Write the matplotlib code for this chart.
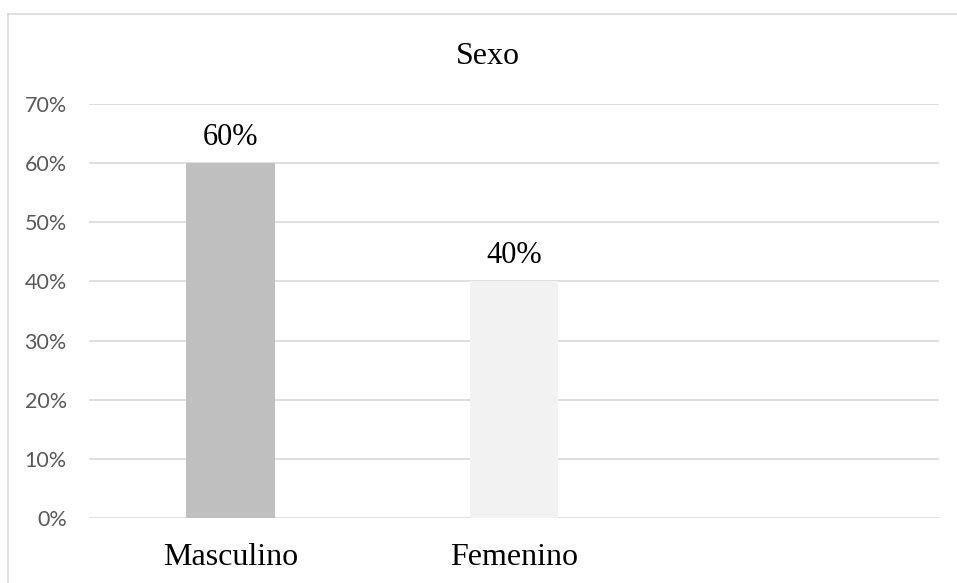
import matplotlib.pyplot as plt
from matplotlib.lines import Line2D
from matplotlib.ticker import PercentFormatter

categories = ["Masculino", "Femenino"]
values = [0.60, 0.40]
bar_colors = ["#BFBFBF", "#F2F2F2"]
y_ticks = [0.0, 0.1, 0.2, 0.3, 0.4, 0.5, 0.6, 0.7]

W, H = 957, 583
fig = plt.figure(figsize=(W / 100, H / 100), dpi=100)
ax = fig.add_axes([89 / W, 1 - 518 / H, (939 - 89) / W, (518 - 104) / H])

serif = "Liberation Serif"

# Chart frame (only top/left edges are visible in the crop)
fig.add_artist(Line2D([8 / W, 8 / W], [0, 1 - 14 / H], transform=fig.transFigure,
                      color="#D9D9D9", linewidth=1.2))
fig.add_artist(Line2D([8 / W, 1], [1 - 14 / H, 1 - 14 / H], transform=fig.transFigure,
                      color="#D9D9D9", linewidth=1.2))

x = list(range(len(categories)))
bars = ax.bar(x, values, width=0.314, color=bar_colors, zorder=2)
ax.bar_label(bars, labels=[f"{v:.0%}" for v in values], padding=8,
             fontsize=22, family=serif, color="black")

ax.set_xlim(-0.5, 2.5)
ax.set_ylim(0, 0.7)
ax.set_yticks(y_ticks)
ax.yaxis.set_major_formatter(PercentFormatter(1.0, decimals=0))
ax.set_xticks(x)
ax.set_xticklabels(categories, fontsize=23, family=serif, color="black")
ax.tick_params(axis="x", length=0, pad=18)
ax.tick_params(axis="y", length=0, pad=16, labelsize=15.5, labelcolor="#595959")
for lab in ax.get_yticklabels():
    lab.set_family("Lato")

ax.grid(axis="y", color="#D9D9D9", linewidth=1.2, zorder=0)
for s in ax.spines.values():
    s.set_visible(False)

fig.text(488 / W, 1 - 64 / H, "Sexo", ha="center", va="baseline",
         fontsize=23, family=serif, color="black")

fig.savefig("out.png", dpi=100)
